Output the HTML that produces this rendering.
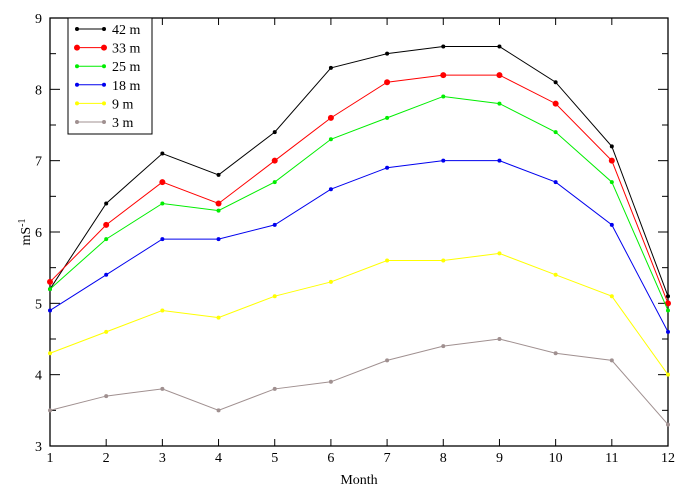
<!DOCTYPE html>
<html><head><meta charset="utf-8"><style>body{margin:0;background:#fff}svg{display:block;font-family:"Liberation Serif",serif}</style></head>
<body>
<svg id="c" width="684" height="492"></svg>
<script>
const months=[1,2,3,4,5,6,7,8,9,10,11,12];
const s42=[5.2,6.4,7.1,6.8,7.4,8.3,8.5,8.6,8.6,8.1,7.2,5.1];
const s33=[5.3,6.1,6.7,6.4,7.0,7.6,8.1,8.2,8.2,7.8,7.0,5.0];
const s25=[5.2,5.9,6.4,6.3,6.7,7.3,7.6,7.9,7.8,7.4,6.7,4.9];
const s18=[4.9,5.4,5.9,5.9,6.1,6.6,6.9,7.0,7.0,6.7,6.1,4.6];
const s9=[4.3,4.6,4.9,4.8,5.1,5.3,5.6,5.6,5.7,5.4,5.1,4.0];
const s3=[3.5,3.7,3.8,3.5,3.8,3.9,4.2,4.4,4.5,4.3,4.2,3.3];
const yTicks=[3,4,5,6,7,8,9];
const seriesNames=["42 m","33 m","25 m","18 m","9 m","3 m"];
const series=[s42,s33,s25,s18,s9,s3];
const colors=["#000","#f00","#0e0","#00e","#ff0","#a09090"];
const L=50,R=668,T=18,B=446;
const X=m=>L+(m-1)*(R-L)/11;
const Y=v=>B-(v-3)*(B-T)/6;
const svg=document.getElementById('c');const NS="http://www.w3.org/2000/svg";
function el(t,a,p){const e=document.createElementNS(NS,t);for(const k in a)e.setAttribute(k,a[k]);(p||svg).appendChild(e);return e;}
const frame=el('rect',{x:L,y:T,width:R-L,height:B-T,fill:'none',stroke:'#000','stroke-width':1.3});


months.forEach(m=>{
  el('line',{x1:X(m),x2:X(m),y1:B,y2:B-7,stroke:'#000'});
  el('line',{x1:X(m),x2:X(m),y1:T,y2:T+7,stroke:'#000'});
  const t=el('text',{x:X(m),y:B+16,'text-anchor':'middle','font-size':14});t.textContent=m;
  
  
});
yTicks.forEach(v=>{
  el('line',{x1:L,x2:L+10,y1:Y(v),y2:Y(v),stroke:'#000'});
  el('line',{x1:R,x2:R-10,y1:Y(v),y2:Y(v),stroke:'#000'});
  if(v<9){el('line',{x1:L,x2:L+6,y1:Y(v+0.5),y2:Y(v+0.5),stroke:'#000'});el('line',{x1:R,x2:R-6,y1:Y(v+0.5),y2:Y(v+0.5),stroke:'#000'});}
  const t=el('text',{x:L-8,y:Y(v)+5,'text-anchor':'end','font-size':14});t.textContent=v;
  
  
});
const xt=el('text',{x:(L+R)/2,y:484,'text-anchor':'middle','font-size':14});xt.textContent='Month';


const yt=el('text',{transform:'translate(30,232) rotate(-90)','text-anchor':'middle','font-size':14});
yt.innerHTML='mS<tspan dy="-5" font-size="10">-1</tspan>';


series.forEach((s,i)=>{
  const g=el('g',{});
  
  
  el('polyline',{points:s.map((v,j)=>X(months[j])+','+Y(v)).join(' '),fill:'none',stroke:colors[i],'stroke-width':1},g);
  s.forEach((v,j)=>{const c=el('circle',{cx:X(months[j]),cy:Y(v),r:i==1?3:2,fill:colors[i]},g);
    
    });
});
const lg=el('g',{});


el('rect',{x:68,y:18,width:84,height:116,fill:'#fff',stroke:'#000','stroke-width':1},lg);
seriesNames.forEach((n,i)=>{
  const y=29+i*18.6;
  el('line',{x1:77,x2:104,y1:y,y2:y,stroke:colors[i]},lg);
  el('circle',{cx:77,cy:y,r:i==1?3:2,fill:colors[i]},lg);
  el('circle',{cx:104,cy:y,r:i==1?3:2,fill:colors[i]},lg);
  const t=el('text',{x:112,y:y+5,'font-size':14},lg);t.textContent=n;
  
  
});
</script>
</body></html>
